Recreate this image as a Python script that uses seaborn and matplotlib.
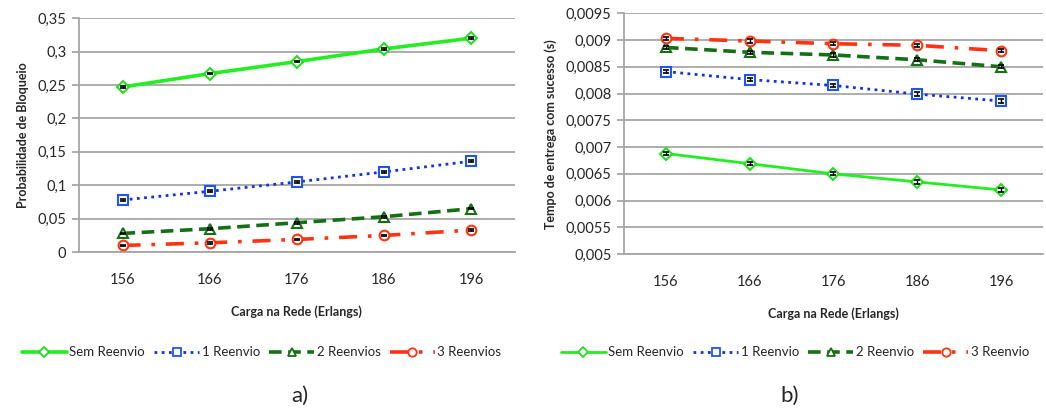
import numpy as np
import pandas as pd
import seaborn as sns
import matplotlib
matplotlib.use("Agg")
import matplotlib.pyplot as plt
from matplotlib.ticker import FuncFormatter, MultipleLocator
from matplotlib.lines import Line2D

# ---------------- data ----------------
cargas = ["156", "166", "176", "186", "196"]

# a) Probabilidade de Bloqueio
bloq_sem = [0.247, 0.267, 0.285, 0.304, 0.320]
bloq_1 = [0.078, 0.091, 0.105, 0.120, 0.136]
bloq_2 = [0.028, 0.035, 0.044, 0.053, 0.065]
bloq_3 = [0.010, 0.014, 0.019, 0.025, 0.033]
bloq_err = [0.0012, 0.0012, 0.0012, 0.0012, 0.0012]

# b) Tempo de entrega com sucesso (s)
tempo_sem = [0.00688, 0.00669, 0.00650, 0.00635, 0.00620]
tempo_1 = [0.00841, 0.00826, 0.00815, 0.00799, 0.00786]
tempo_2 = [0.00886, 0.00877, 0.00872, 0.00863, 0.00850]
tempo_3 = [0.00903, 0.00898, 0.00893, 0.00890, 0.00880]
tempo_err = [0.00003, 0.00003, 0.00003, 0.00003, 0.00003]

labels_a = ["Sem Reenvio", "1 Reenvio", "2 Reenvios", "3 Reenvios"]
labels_b = ["Sem Reenvio", "1 Reenvio", "2 Reenvio", "3 Reenvio"]

# ---------------- style ----------------
sns.set_theme(style="white")
plt.rcParams['font.family'] = ['Lato', 'DejaVu Sans']

styles = [
    dict(color="#22EE22", ls="-", marker="D", mec="#22DD22", ms=6),
    dict(color="#1133DD", ls=(0, (1, 1.6)), marker="s", mec="#2255EE", ms=7),
    dict(color="#157015", ls=(0, (3.5, 1.8)), marker="^", mec="#157015", ms=7),
    dict(color="#FF3311", ls=(0, (5, 3, 1, 3)), marker="o", mec="#FF3311", ms=7),
]
lw_a = [2.6, 2.0, 2.6, 2.6]
lw_b = [2.0, 2.0, 2.6, 2.6]

fig = plt.figure(figsize=(10.46, 4.12), dpi=100)
ax1 = fig.add_axes([0.0755, 0.388, 0.4165, 0.568])
ax2 = fig.add_axes([0.5966, 0.383, 0.4004, 0.585])


def draw(ax, series, err, labels, lws):
    handles = []
    for vals, st, lab, lw in zip(series, styles, labels, lws):
        df = pd.DataFrame({"carga": cargas, "v": vals})
        sns.lineplot(data=df, x="carga", y="v", ax=ax, color=st["color"],
                     linewidth=lw, sort=False, zorder=3)
        line = ax.lines[-1]
        line.set_linestyle(st["ls"])
        line.set_marker(st["marker"])
        line.set_markersize(st["ms"])
        line.set_markeredgecolor(st["mec"])
        line.set_markerfacecolor("white")
        line.set_markeredgewidth(1.5)
        ax.errorbar(range(len(cargas)), vals, yerr=err, fmt="none",
                    ecolor="black", elinewidth=1.0, capsize=2.5, capthick=1.2,
                    zorder=4)
        handles.append(Line2D([0], [0], color=st["color"], ls=st["ls"], lw=lw,
                              marker=st["marker"], ms=st["ms"] - 1,
                              mec=st["mec"], mfc="white", mew=1.3))
    ax.set_xlim(-0.5, len(cargas) - 0.5)
    ax.grid(axis="y", color="#A6A6A6", linewidth=1.3, zorder=0)
    ax.grid(axis="x", visible=False)
    for s in ["top", "right"]:
        ax.spines[s].set_visible(False)
    for s in ["left", "bottom"]:
        ax.spines[s].set_color("#A6A6A6")
        ax.spines[s].set_linewidth(1.3)
    ax.tick_params(axis="y", which="major", length=5, color="#A6A6A6",
                   width=1.3, left=True, labelsize=10.5, pad=4)
    ax.tick_params(axis="x", length=0, labelsize=10.5, pad=15)
    ax.set_xlabel("Carga na Rede (Erlangs)", fontsize=9, fontweight="bold",
                  labelpad=13)
    return handles


fmt = FuncFormatter(lambda v, p: ("{:g}".format(round(v, 6))).replace(".", ","))

h1 = draw(ax1, [bloq_sem, bloq_1, bloq_2, bloq_3], bloq_err, labels_a, lw_a)
ax1.set_ylim(0, 0.35)
ax1.yaxis.set_major_locator(MultipleLocator(0.05))
ax1.yaxis.set_major_formatter(fmt)
ax1.set_ylabel("Probabilidade de Bloqueio", fontsize=9, fontweight="bold",
               labelpad=6)

h2 = draw(ax2, [tempo_sem, tempo_1, tempo_2, tempo_3], tempo_err, labels_b, lw_b)
ax2.set_ylim(0.005, 0.0095)
ax2.yaxis.set_major_locator(MultipleLocator(0.0005))
ax2.yaxis.set_major_formatter(fmt)
ax2.set_ylabel("Tempo de entrega com sucesso (s)", fontsize=9,
               fontweight="bold", labelpad=6)

leg_kw = dict(ncol=4, frameon=False, fontsize=9.5, handlelength=3.4,
              handletextpad=0.2, columnspacing=0.7, loc="center")
fig.legend(h1, labels_a, bbox_to_anchor=(0.250, 0.145), **leg_kw)
fig.legend(h2, labels_b, bbox_to_anchor=(0.760, 0.145), **leg_kw)

fig.text(0.287, 0.04, "a)", fontsize=16, ha="center", va="center")
fig.text(0.755, 0.04, "b)", fontsize=16, ha="center", va="center")

fig.savefig("out.png", dpi=100)
